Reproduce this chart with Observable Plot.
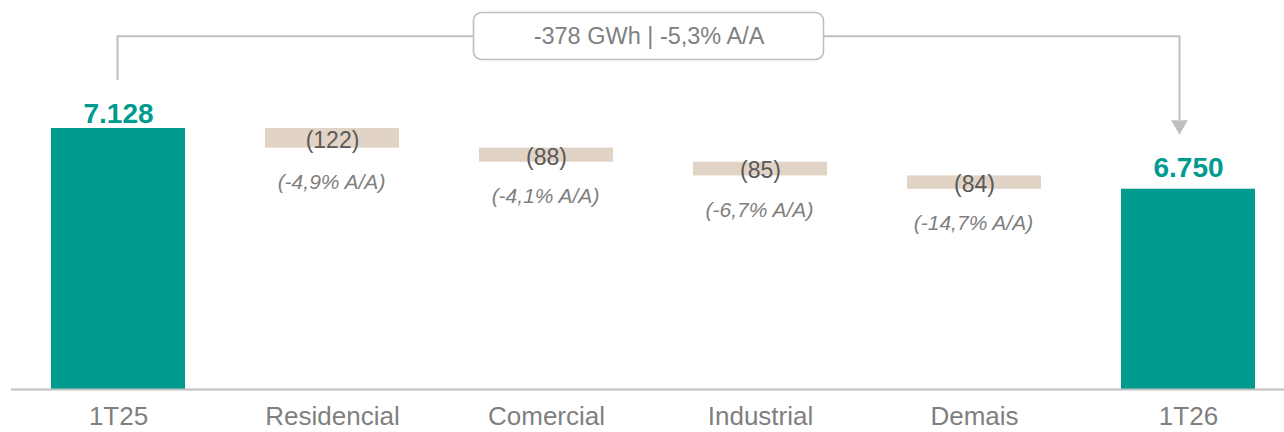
<!DOCTYPE html>
<html>
<head>
<meta charset="utf-8">
<script src="https://cdn.jsdelivr.net/npm/d3@7"></script>
<script src="https://cdn.jsdelivr.net/npm/@observablehq/plot@0.6"></script>
<style>
  html, body { margin: 0; padding: 0; background: #ffffff; }
  #chart { width: 1284px; height: 432px; }
</style>
</head>
<body>
<div id="chart"></div>
<script>
// ---- data ----
const categories = ["1T25", "Residencial", "Comercial", "Industrial", "Demais", "1T26"];
const startTotal = 7128;          // 1T25
const endTotal = 6750;            // 1T26
const deltaCategories = ["Residencial", "Comercial", "Industrial", "Demais"];
const deltaValues = [-122, -88, -85, -84];
const deltaPct = ["-4,9%", "-4,1%", "-6,7%", "-14,7%"];
const summaryText = "-378 GWh | -5,3% A/A";

// ---- layout / style ----
const W = 1284, H = 432;
const marginBottom = 43;
const yDomain = [5503, 7925];
const teal = "#009b8f";
const beige = "#e1d3c5";
const grey = "#bfbfbf";
const font = "'Liberation Sans', Arial, Helvetica, sans-serif";

const fmt = n => String(n).replace(/\B(?=(\d{3})+$)/g, ".");

// derived rows
const totalRows = [
  {cat: categories[0], value: startTotal},
  {cat: categories[5], value: endTotal}
];
let running = startTotal;
const deltaRows = deltaCategories.map((c, i) => {
  const y1 = running, y2 = running + deltaValues[i];
  running = y2;
  return {cat: c, y1, y2, delta: deltaValues[i], pct: deltaPct[i]};
});

// pixel -> value helper for the annotation bracket (uses the y domain)
const plotH = H - marginBottom;
const px2v = py => yDomain[1] - (py / plotH) * (yDomain[1] - yDomain[0]);
const bracketLevel = px2v(35.7);
const leftLegBottom = px2v(80);
const rightLegBottom = px2v(120);
const arrowCenter = px2v(124.5);

const chart = Plot.plot({
  width: W,
  height: H,
  marginTop: 0,
  marginLeft: 11,
  marginRight: 0,
  marginBottom: marginBottom,
  style: {fontFamily: font, background: "#ffffff", color: "#7f7f7f"},
  x: {domain: categories, range: [51, 1255], paddingInner: 0.3738, paddingOuter: 0, round: false, label: null, axis: null},
  y: {domain: yDomain, axis: null},
  marks: [
    // total bars
    Plot.barY(totalRows, {x: "cat", y1: 0, y2: "value", fill: teal, clip: true}),
    // floating delta bars
    Plot.barY(deltaRows, {x: "cat", y1: "y1", y2: "y2", fill: beige}),
    // baseline
    Plot.ruleY([yDomain[0]], {stroke: grey, strokeWidth: 2}),
    // x axis labels
    Plot.axisX({tickSize: 0, tickPadding: 17.5, fontSize: 26, color: "#7f7f7f", label: null}),
    // total value labels
    Plot.text(totalRows.slice(0, 1), {x: "cat", y: "value", text: d => fmt(d.value), lineAnchor: "bottom", dy: -6,
      fill: teal, fontSize: 28, fontWeight: "bold"}),
    Plot.text(totalRows.slice(1), {x: "cat", y: "value", text: d => fmt(d.value), lineAnchor: "bottom", dy: -12,
      fill: teal, fontSize: 28, fontWeight: "bold"}),
    // delta labels
    Plot.text(deltaRows, {x: "cat", y: d => (d.y1 + d.y2) / 2, text: d => `(${Math.abs(d.delta)})`,
      lineAnchor: "middle", dy: 2, fill: "#595959", fontSize: 23}),
    Plot.text(deltaRows, {x: "cat", y: "y2", text: d => `(${d.pct} A/A)`,
      lineAnchor: "middle", dy: 34, dx: -1, fill: "#7f7f7f", fontSize: 21, fontStyle: "italic"}),
    // bracket annotation
    Plot.ruleX([categories[0]], {y1: leftLegBottom, y2: bracketLevel, dx: -1, stroke: grey, strokeWidth: 2}),
    Plot.ruleY([bracketLevel], {x1: () => categories[0], x2: () => categories[5], insetLeft: 66, insetRight: 75,
      stroke: grey, strokeWidth: 2}),
    Plot.ruleX([categories[5]], {y1: bracketLevel, y2: rightLegBottom, dx: -9, stroke: grey, strokeWidth: 2}),
    Plot.dot([categories[5]], {x: d => d, y: arrowCenter, dx: -9, symbol: "triangle", rotate: 180, r: 6.2,
      fill: grey, stroke: "none"}),
    // summary box
    Plot.frame({insetLeft: 462, insetRight: 461, insetTop: 12, insetBottom: plotH - 59, rx: 8,
      fill: "#ffffff", stroke: grey, strokeWidth: 1.6}),
    Plot.text([summaryText], {frameAnchor: "top", text: d => d, lineAnchor: "bottom", dy: 43, dx: 1,
      fill: "#7f7f7f", fontSize: 23.5})
  ]
});
document.getElementById("chart").appendChild(chart);
</script>
</body>
</html>
